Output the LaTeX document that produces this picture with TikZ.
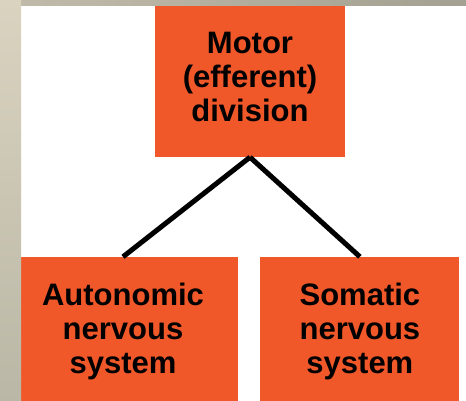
\documentclass[tikz,border=0pt]{standalone}
\usepackage{fontspec}
\setmainfont{Liberation Sans}
\usetikzlibrary{positioning}

\definecolor{boxorange}{HTML}{F0582A}
\definecolor{framelight}{HTML}{DAD3C0}
\definecolor{framedark}{HTML}{BAB7A6}

\begin{document}
\begin{tikzpicture}[
  x=1pt, y=-1pt,
  division/.style={rectangle, fill=boxorange, inner sep=0pt, align=center,
    font=\bfseries\fontsize{31}{34}\selectfont},
  branch/.style={line width=5pt, black}
]
\useasboundingbox (0,0) rectangle (466,401);
\clip (0,0) rectangle (466,401);

% Slide background
\fill[white] (0,0) rectangle (466,401);

% Boxes
\node[division, minimum width=190pt, minimum height=160pt] (motor) at (250,77)
  {Motor\\(efferent)\\division};
\node[division, minimum width=230pt, minimum height=148pt] (auto) at (123,331)
  {Autonomic\\nervous\\system};
\node[division, minimum width=199pt, minimum height=148pt, right=22pt of auto] (soma)
  {Somatic\\nervous\\system};

% Branches
\draw[branch] (motor.south) -- (auto.north);
\draw[branch] (motor.south) -- (soma.north);

% Frame of the slide
\shade[top color=framelight, bottom color=framedark] (0,0) rectangle (21,401);
\shade[left color=framelight!88!black, right color=framedark!88!black] (21,0) rectangle (466,6);

\end{tikzpicture}
\end{document}
